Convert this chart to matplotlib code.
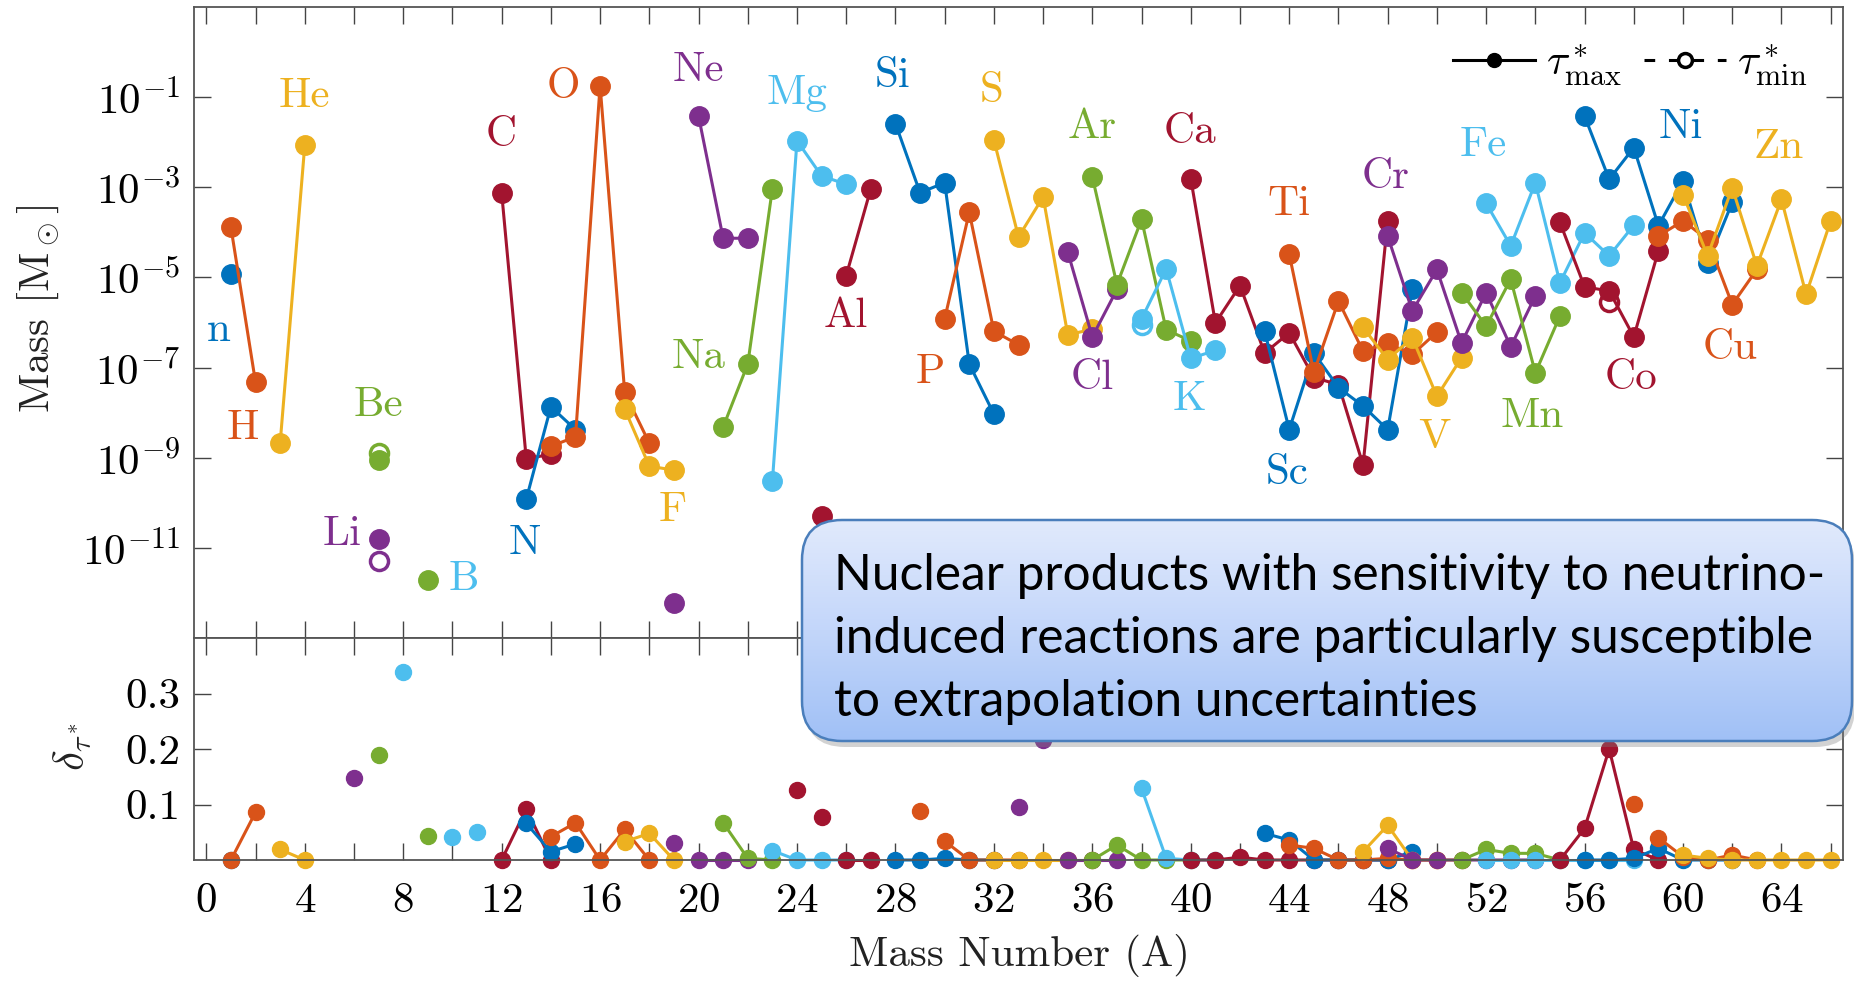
import numpy as np
import matplotlib.pyplot as plt
from matplotlib.lines import Line2D
from matplotlib.patches import FancyBboxPatch
from matplotlib.colors import LinearSegmentedColormap
from matplotlib.ticker import MultipleLocator, NullLocator

plt.rcParams['font.family'] = 'serif'
plt.rcParams['font.serif'] = ['cmr10']
plt.rcParams['mathtext.fontset'] = 'cm'
plt.rcParams['axes.formatter.use_mathtext'] = True

nan = np.nan

# element order (Z = index), colour cycles with Z
elements = ['n', 'H', 'He', 'Li', 'Be', 'B', 'C', 'N', 'O', 'F', 'Ne', 'Na', 'Mg',
            'Al', 'Si', 'P', 'S', 'Cl', 'Ar', 'K', 'Ca', 'Sc', 'Ti', 'V', 'Cr',
            'Mn', 'Fe', 'Co', 'Ni', 'Cu', 'Zn']

# mass numbers of the plotted isotopes
iso_A = {
    'n': [1], 'H': [1, 2], 'He': [3, 4], 'Li': [6, 7], 'Be': [7, 9],
    'B': [8, 10, 11], 'C': [12, 13, 14], 'N': [13, 14, 15],
    'O': [14, 15, 16, 17, 18], 'F': [17, 18, 19], 'Ne': [19, 20, 21, 22],
    'Na': [21, 22, 23], 'Mg': [23, 24, 25, 26], 'Al': [24, 25, 26, 27],
    'Si': [28, 29, 30, 31, 32], 'P': [29, 30, 31, 32, 33],
    'S': [32, 33, 34, 35, 36], 'Cl': [33, 34, 35, 36, 37],
    'Ar': [36, 37, 38, 39, 40], 'K': [38, 39, 40, 41],
    'Ca': [40, 41, 42, 43, 44, 45, 46, 47, 48],
    'Sc': [43, 44, 45, 46, 47, 48, 49], 'Ti': [44, 45, 46, 47, 48, 49, 50],
    'V': [47, 48, 49, 50, 51], 'Cr': [48, 49, 50, 51, 52, 53, 54],
    'Mn': [51, 52, 53, 54, 55], 'Fe': [52, 53, 54, 55, 56, 57, 58],
    'Co': [55, 56, 57, 58, 59], 'Ni': [56, 57, 58, 59, 60, 61, 62],
    'Cu': [58, 59, 60, 61, 62, 63], 'Zn': [60, 61, 62, 63, 64, 65, 66],
}

# ejected mass for tau*_max [Msun]
m_max = {
    'n': [1.2e-5], 'H': [1.3e-4, 4.7e-8], 'He': [2.1e-9, 8.5e-3],
    'Li': [nan, 1.6e-11], 'Be': [9.0e-10, 1.9e-12], 'B': [nan, nan, nan],
    'C': [7.6e-4, 9.4e-10, 1.2e-9], 'N': [1.2e-10, 1.35e-8, 4.2e-9],
    'O': [1.8e-9, 2.9e-9, 0.18, 2.8e-8, 2.1e-9],
    'F': [1.2e-8, 6.5e-10, 5.3e-10], 'Ne': [5.9e-13, 0.038, 7.4e-5, 7.4e-5],
    'Na': [4.8e-9, 1.2e-7, 9.3e-4], 'Mg': [3.0e-10, 0.0108, 1.78e-3, 1.17e-3],
    'Al': [nan, 5.0e-11, 1.1e-5, 9.3e-4],
    'Si': [0.026, 7.6e-4, 1.26e-3, 1.2e-7, 9.3e-9],
    'P': [nan, 1.2e-6, 2.8e-4, 6.4e-7, 3.2e-7],
    'S': [0.0112, 7.9e-5, 6.1e-4, 5.4e-7, 7.0e-7],
    'Cl': [nan, nan, 3.7e-5, 4.8e-7, 5.4e-6],
    'Ar': [1.7e-3, 6.9e-6, 1.94e-4, 6.9e-7, 3.9e-7],
    'K': [1.2e-6, 1.55e-5, 1.6e-7, 2.4e-7],
    'Ca': [1.55e-3, 9.8e-7, 6.6e-6, 2.1e-7, 5.9e-7, 6.0e-8, 4.2e-8, 6.9e-10, 1.8e-4],
    'Sc': [6.4e-7, 4.2e-9, 2.1e-7, 3.6e-8, 1.4e-8, 4.2e-9, 5.4e-6],
    'Ti': [3.3e-5, 7.8e-8, 3.0e-6, 2.3e-7, 3.5e-7, 1.95e-7, 6.1e-7],
    'V': [7.8e-7, 1.5e-7, 4.6e-7, 2.3e-8, 1.65e-7],
    'Cr': [8.3e-5, 1.8e-6, 1.5e-5, 3.5e-7, 4.6e-6, 2.9e-7, 3.9e-6],
    'Mn': [4.6e-6, 8.3e-7, 9.1e-6, 7.6e-8, 1.4e-6],
    'Fe': [4.4e-4, 5.0e-5, 1.26e-3, 7.6e-6, 9.8e-5, 3.0e-5, 1.44e-4],
    'Co': [1.66e-4, 6.2e-6, 5.0e-6, 4.8e-7, 3.9e-5],
    'Ni': [0.038, 1.5e-3, 7.6e-3, 1.4e-4, 1.38e-3, 2.1e-5, 4.6e-4],
    'Cu': [nan, 8.3e-5, 1.8e-4, 6.9e-5, 2.5e-6, 1.5e-5],
    'Zn': [6.9e-4, 3.0e-5, 9.8e-4, 1.8e-5, 5.4e-4, 4.2e-6, 1.8e-4],
}

# tau*_min where it differs visibly from tau*_max
m_min_A = {'Li': [7], 'Be': [7], 'K': [38], 'Co': [57]}
m_min = {'Li': [5.0e-12], 'Be': [1.3e-9], 'K': [9.0e-7], 'Co': [2.8e-6]}

# relative difference delta_tau*
delta = {
    'n': [0.0], 'H': [0.0, 0.086], 'He': [0.019, 0.0], 'Li': [0.148, nan],
    'Be': [0.189, 0.043], 'B': [0.339, 0.042, 0.05], 'C': [0.0, 0.092, 0.0],
    'N': [0.066, 0.015, 0.029], 'O': [0.042, 0.067, 0.0, 0.055, 0.0],
    'F': [0.033, 0.048, 0.0], 'Ne': [0.031, 0.0, 0.0, 0.0],
    'Na': [0.067, 0.003, 0.0], 'Mg': [0.017, 0.0, 0.0, 0.0],
    'Al': [0.126, 0.078, 0.0, 0.0], 'Si': [0.0, 0.0, 0.003, 0.0, 0.0],
    'P': [0.088, 0.034, 0.0, 0.0, 0.0], 'S': [0.0, 0.0, 0.0, 0.0, 0.0],
    'Cl': [0.096, 0.216, 0.0, 0.0, 0.0], 'Ar': [0.0, 0.027, 0.0, 0.0, 0.0],
    'K': [0.129, 0.003, 0.0, 0.0],
    'Ca': [0.0, 0.0, 0.005, 0.0, 0.0, 0.0, 0.0, 0.0, 0.0],
    'Sc': [0.048, 0.036, 0.0, 0.0, 0.0, 0.0, 0.015],
    'Ti': [0.027, 0.021, 0.0, 0.0, 0.003, 0.0, 0.0],
    'V': [0.015, 0.0625, 0.0, 0.0, 0.0],
    'Cr': [0.021, 0.0, 0.0, 0.0, 0.0, 0.0, 0.0],
    'Mn': [0.0, 0.019, 0.012, 0.012, 0.0],
    'Fe': [0.0, 0.0, 0.0, 0.0, 0.0, 0.0, 0.0],
    'Co': [0.0, 0.057, 0.2, 0.019, 0.0],
    'Ni': [0.0, 0.0, 0.003, 0.021, 0.0, 0.0, 0.0],
    'Cu': [0.101, 0.04, 0.006, 0.0, 0.009, 0.0],
    'Zn': [0.009, 0.003, 0.0, 0.0, 0.0, 0.0, 0.0],
}

# isotopes drawn as lone points (no connecting line)
isolated = {'Li': [6, 7], 'Be': [7, 9], 'B': [8, 10, 11], 'Ne': [19],
            'Al': [24, 25], 'P': [29], 'Cl': [33, 34], 'Cu': [58]}

# element name positions (A, log10 mass)
label_pos = {
    'n': (0.5, -6.18), 'H': (1.5, -8.34), 'He': (4.0, -0.98), 'Li': (5.5, -10.7),
    'Be': (7.0, -7.84), 'B': (10.45, -11.7), 'C': (12.0, -1.85), 'N': (12.95, -10.9),
    'O': (14.5, -0.79), 'F': (18.95, -10.17), 'Ne': (20.0, -0.40), 'Na': (20.0, -6.77),
    'Mg': (24.0, -0.92), 'Al': (26.0, -5.87), 'Si': (27.9, -0.53), 'P': (29.4, -7.1),
    'S': (31.9, -0.87), 'Cl': (36.0, -7.23), 'Ar': (36.0, -1.66), 'K': (39.95, -7.71),
    'Ca': (39.95, -1.77), 'Sc': (43.9, -9.34), 'Ti': (44.0, -3.37), 'V': (49.9, -8.55),
    'Cr': (47.9, -2.77), 'Mn': (53.85, -8.07), 'Fe': (51.9, -2.06), 'Co': (57.9, -7.23),
    'Ni': (59.9, -1.66), 'Cu': (61.9, -6.57), 'Zn': (63.9, -2.11),
}

colors = ['#0072BD', '#D95319', '#EDB120', '#7E2F8E', '#77AC30', '#4DBEEE', '#A2142F']

callout = ['Nuclear products with sensitivity to neutrino-',
           'induced reactions are particularly susceptible',
           'to extrapolation uncertainties']

W, H = 1854, 988
fig = plt.figure(figsize=(W / 100, H / 100), dpi=100)
L, R, T, MID, B = 194, 1843, 7, 638, 860
ax1 = fig.add_axes([L / W, 1 - MID / H, (R - L) / W, (MID - T) / H])
ax2 = fig.add_axes([L / W, 1 - B / H, (R - L) / W, (B - MID) / H])

FS = 31
for z, el in enumerate(elements):
    c = colors[z % 7]
    A = np.array(iso_A[el], float)
    m = np.array(m_max[el], float)
    d = np.array(delta[el], float)
    lone = np.isin(A, isolated.get(el, []))
    if el in m_min:
        ax1.plot(m_min_A[el], m_min[el], '--o', color=c, lw=2.2, ms=13,
                 mfc='none', mew=2.5)
    ax1.plot(A[~lone], m[~lone], '-o', color=c, lw=2.2, ms=14)
    ax1.plot(A[lone], m[lone], 'o', color=c, ms=14)
    ax2.plot(A[~lone], d[~lone], '-o', color=c, lw=2.2, ms=11.5, clip_on=False)
    ax2.plot(A[lone], d[lone], 'o', color=c, ms=11.5, clip_on=False)
    lx, ly = label_pos[el]
    ax1.text(lx, 10 ** ly, el, color=c, fontsize=FS, ha='center', va='center')

ax1.set_yscale('log')
ax1.set_ylim(1e-13, 1e1)
ax1.set_yticks([1e-11, 1e-9, 1e-7, 1e-5, 1e-3, 1e-1])
ax1.yaxis.set_minor_locator(NullLocator())
ax2.set_ylim(0, 0.4)
ax2.set_yticks([0.1, 0.2, 0.3])
ax2.set_yticklabels(['0.1', '0.2', '0.3'])
for ax in (ax1, ax2):
    ax.set_xlim(-0.5, 66.5)
    ax.tick_params(which='both', direction='in', top=True, right=True,
                   length=12.5, width=1.0, color='#444444', labelsize=FS, pad=10)
    for s in ax.spines.values():
        s.set_color('#555555')
        s.set_linewidth(1.3)
ax1.xaxis.set_major_locator(MultipleLocator(2))
ax1.tick_params(labelbottom=False)
ax2.xaxis.set_major_locator(MultipleLocator(4))
ax2.xaxis.set_minor_locator(MultipleLocator(2))
ax2.tick_params(axis='x', pad=16)

fig.text(38 / W, 1 - 309 / H, r'Mass [M$_\odot$]', rotation=90, fontsize=FS,
         ha='center', va='center', color='#222222')
fig.text(73 / W, 1 - 747 / H, r'$\delta_{\tau^*}$', rotation=90, fontsize=FS,
         ha='center', va='center', color='#222222')
fig.text(1019 / W, 1 - 955 / H, 'Mass Number (A)', fontsize=FS,
         ha='center', va='center', color='#222222')

handles = [Line2D([], [], color='k', lw=2.2, marker='o', ms=10),
           Line2D([], [], color='k', lw=2.2, ls=(0, (3.5, 4.5)), marker='o', ms=10,
                  mfc='white', mew=2.5)]
ax1.legend(handles, [r'$\tau^*_{\max}$', r'$\tau^*_{\min}$'], ncol=2, frameon=False,
           loc='center right', bbox_to_anchor=((1807 - L) / (R - L), (MID - 65) / (MID - T)),
           fontsize=FS, handlelength=1.9, handletextpad=0.25, columnspacing=0.5,
           borderpad=0, borderaxespad=0)

# callout box
ov = fig.add_axes([0, 0, 1, 1], zorder=10)
ov.set_xlim(0, W)
ov.set_ylim(H, 0)
ov.axis('off')
bx, by, bw, bh = 802, 520, 1050, 221
ov.add_patch(FancyBboxPatch((bx + 3, by + 6), bw, bh, boxstyle='round,pad=0,rounding_size=40',
                            fc='#7f7f7f', ec='none', alpha=0.35))
box = FancyBboxPatch((bx, by), bw, bh, boxstyle='round,pad=0,rounding_size=40',
                     fc='none', ec='#4a7ebb', lw=1.8, zorder=3)
ov.add_patch(box)
cmap = LinearSegmentedColormap.from_list('callout', ['#e1eafc', '#c3d6fa', '#a0c0f6'])
im = ov.imshow(np.linspace(0, 1, 256)[:, None], extent=(bx, bx + bw, by + bh, by),
               cmap=cmap, aspect='auto', zorder=2)
im.set_clip_path(box)
ov.set_xlim(0, W)
ov.set_ylim(H, 0)

txts = [ov.text(834, y, s, family='Lato', fontsize=36, color='black', va='center', zorder=4)
        for y, s in zip([576, 639, 702], callout)]
fig.canvas.draw()
wpx = txts[1].get_window_extent().width
for t in txts:
    t.set_fontsize(36 * 979 / wpx)

fig.savefig('out.png', dpi=100)
